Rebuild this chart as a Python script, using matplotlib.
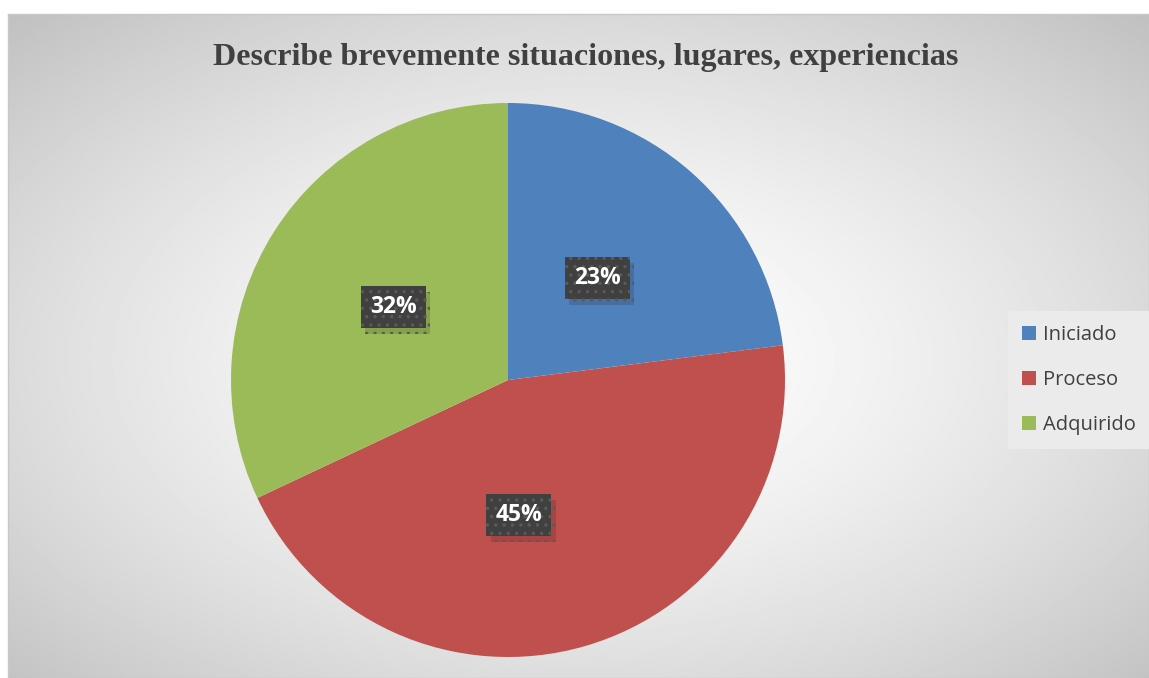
import numpy as np
import matplotlib.pyplot as plt
import matplotlib.patheffects as pe

# data
labels = ["Iniciado", "Proceso", "Adquirido"]
values = [23, 45, 32]
colors = ["#4F81BD", "#C0504D", "#9BBB59"]
title = "Describe brevemente situaciones, lugares, experiencias"

W, H = 1149, 678
fig = plt.figure(figsize=(W / 100, H / 100), dpi=100)
fig.patch.set_facecolor("white")
plt.rcParams["hatch.linewidth"] = 1.2

# chart area with radial grey gradient
bg = fig.add_axes([8 / W, 0, 1 - 8 / W, 1 - 14 / H])
yy, xx = np.mgrid[0:1:400j, 0:1:700j]
d = np.sqrt(((xx - 0.5) / 0.55) ** 2 + ((yy - 0.52) / 0.55) ** 2)
v = np.clip(255 - 42 * d ** 1.5, 185, 255) / 255
bg.imshow(v, cmap="gray", vmin=0, vmax=1, extent=[0, 1, 0, 1], aspect="auto", origin="upper")
bg.set_xticks([])
bg.set_yticks([])
for s in bg.spines.values():
    s.set_color("#c8c8c8")
    s.set_linewidth(1)

fig.text(586 / W, 1 - 58 / H, title, ha="center", va="center",
         fontsize=23, fontweight="bold", family="Liberation Serif", color="#404040")

# pie
cx, cy, r = 508, 380, 277
ax = fig.add_axes([(cx - r) / W, 1 - (cy + r) / H, 2 * r / W, 2 * r / H])
wedges, texts, autotexts = ax.pie(values, colors=colors, startangle=90, counterclock=False,
                                  radius=1, autopct="%1.0f%%", pctdistance=0.49,
                                  wedgeprops=dict(linewidth=0))
ax.set_xlim(-1, 1)
ax.set_ylim(-1, 1)
ax.set_aspect("equal")

# Proceso label was nudged in the original
a = np.deg2rad(-85.4)
autotexts[1].set_position((0.49 * np.cos(a), 0.49 * np.sin(a)))

for t in autotexts:
    t.set_color("white")
    t.set_fontsize(16.5)
    t.set_fontweight("bold")
    t.set_family("Open Sans")
    t.set_bbox(dict(boxstyle="square,pad=0.4", fc="#404040", ec="#5a5a5a", lw=0, hatch=".."))
    t.get_bbox_patch().set_path_effects([pe.SimplePatchShadow(offset=(3, -4), alpha=0.15),
                                         pe.Normal()])

leg = fig.legend(wedges, labels, loc="center left", bbox_to_anchor=(998 / W, 1 - 380 / H),
                 frameon=True, fancybox=False, facecolor="#ebebeb", edgecolor="none",
                 framealpha=1, handlelength=0.7, handleheight=0.7, handletextpad=0.35,
                 labelspacing=1.25, borderpad=0.7,
                 prop=dict(family="Open Sans", size=14.5))
for t in leg.get_texts():
    t.set_color("#404040")

fig.savefig("out.png", dpi=100)
